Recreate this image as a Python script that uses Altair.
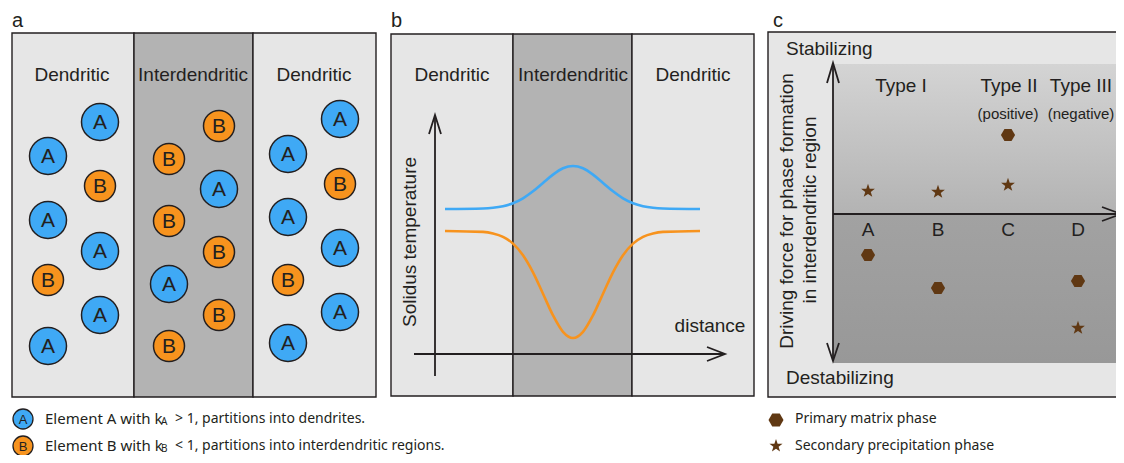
import altair as alt
import pandas as pd

FONT = "Liberation Sans"
LFONT = "Noto Sans"
INK = "#231f20"
LIGHT = "#e6e6e6"
DARK = "#b3b3b3"
BLUE = "#3fa9f5"
ORANGE = "#f7931e"
BROWN = "#603813"

# figure coordinate frame (units of the 1124x463 reference layout)
X0, X1 = 8, 1116
Y0, Y1 = 10, 457

# ---- panel backgrounds -------------------------------------------------
box_x = [12, 134, 253, 391, 513, 632, 768]
box_x2 = [134, 253, 376, 513, 632, 754, 1130]
box_y = [35, 35, 35, 36, 36, 36, 34]
box_y2 = [399, 399, 399, 398, 398, 398, 399]
box_fill = [LIGHT, DARK, LIGHT, LIGHT, DARK, LIGHT, LIGHT]

# panel c inner field (upper = stabilizing, lower = destabilizing)
field_x = [833, 833]
field_x2 = [1122, 1122]
field_y = [66, 216]
field_y2 = [216, 365]

# ---- panel a: solute elements ----------------------------------------
el_x = [100, 48, 100, 48, 100, 48, 100, 48,
        219, 169, 219, 169, 219, 169, 219, 169,
        340, 288, 340, 288, 340, 288, 340, 288]
el_y = [124, 158, 188, 222, 253, 282, 317, 348,
        128, 161, 191, 223, 254, 286, 317, 348,
        121, 156, 186, 219, 250, 282, 314, 345]
el_type = ["A", "A", "B", "A", "A", "B", "A", "A",
           "B", "B", "A", "B", "B", "A", "B", "B",
           "A", "A", "B", "A", "A", "B", "A", "A"]

# legend rows
row1, row2 = 421, 448
leg_a_x = [23, 23]
leg_a_y = [row1, row2]
leg_a_type = ["A", "B"]

# ---- panel b: solidus temperature profiles ---------------------------
dist = [445, 483, 493, 503, 513, 523, 533, 543, 553, 563, 573,
        583, 593, 603, 613, 623, 633, 643, 653, 663, 700]
temp_A = [211, 210.5, 209.8, 208.2, 205.2, 200.3, 193.3, 184.9, 176.6, 170.3, 168,
          170.3, 176.6, 184.9, 193.3, 200.3, 205.2, 208.2, 209.8, 210.5, 211]
temp_B = [233, 233.9, 235.4, 238.8, 245.6, 257.2, 274.3, 295.7, 317.3, 333.8, 340,
          333.8, 317.3, 295.7, 274.3, 257.2, 245.6, 238.8, 235.4, 233.9, 233]

# ---- axis arrows (id, x, y) -------------------------------------------
arrow_id = ["by", "by", "bx", "bx", "cy", "cy", "cx", "cx",
            "h1", "h1", "h1", "h2", "h2", "h2", "h3", "h3", "h3",
            "h4", "h4", "h4", "h5", "h5", "h5"]
arrow_x = [435, 435, 414, 725, 833, 833, 833, 1121,
           429, 435, 441, 707, 725, 707, 827, 833, 839,
           827, 833, 839, 1102, 1121, 1102]
arrow_y = [378, 117, 356, 356, 65, 363, 216, 216,
           136, 117, 136, 349, 356, 363, 85, 65, 85,
           345, 363, 345, 209, 216, 223]

# ---- panel c: phases ---------------------------------------------------
cat = ["A", "B", "C", "D"]
cat_x = [868, 938, 1008, 1078]
matrix_y = [257, 290, 137, 283]
precip_y = [193, 194, 187, 330]

HEX = "M-1,0L-0.5,-0.866L0.5,-0.866L1,0L0.5,0.866L-0.5,0.866Z"
STAR = ("M0,-1L0.235,-0.324L0.951,-0.309L0.380,0.124L0.588,0.809L0,0.4"
        "L-0.588,0.809L-0.380,0.124L-0.951,-0.309L-0.235,-0.324Z")

xs = alt.Scale(domain=[X0, X1], nice=False, zero=False)
ys = alt.Scale(domain=[Y0, Y1], nice=False, zero=False, reverse=True)


def XY(extra=None):
    enc = dict(x=alt.X("x:Q", scale=xs, axis=None), y=alt.Y("y:Q", scale=ys, axis=None))
    if extra:
        enc.update(extra)
    return enc


def texts(items, size, align="center", baseline="middle", angle=0, font=FONT, color=INK):
    df = pd.DataFrame(items, columns=["x", "y", "t"])
    kw = dict(fontSize=size, align=align, baseline=baseline, font=font, color=color)
    if angle:
        kw["angle"] = angle
    return alt.Chart(df).mark_text(**kw).encode(**XY({"text": "t:N"}))


layers = []

# backgrounds
bg = pd.DataFrame({"x": box_x, "x2": box_x2, "y": box_y, "y2": box_y2, "f": box_fill})
layers.append(alt.Chart(bg).mark_rect(stroke=INK, strokeWidth=1.4).encode(
    **XY({"x2": "x2:Q", "y2": "y2:Q", "fill": alt.Fill("f:N", scale=None)})))

fld = pd.DataFrame({"x": field_x, "x2": field_x2, "y": field_y, "y2": field_y2})
grad_up = alt.LinearGradient(gradient="linear", x1=0, x2=0, y1=0, y2=1,
                             stops=[alt.GradientStop(color="#d4d4d4", offset=0),
                                    alt.GradientStop(color="#b3b3b3", offset=1)])
grad_lo = alt.LinearGradient(gradient="linear", x1=0, x2=0, y1=0, y2=1,
                             stops=[alt.GradientStop(color="#a2a2a2", offset=0),
                                    alt.GradientStop(color="#989898", offset=1)])
layers.append(alt.Chart(fld.iloc[[0]]).mark_rect(fill=grad_up).encode(
    **XY({"x2": "x2:Q", "y2": "y2:Q"})))
layers.append(alt.Chart(fld.iloc[[1]]).mark_rect(fill=grad_lo).encode(
    **XY({"x2": "x2:Q", "y2": "y2:Q"})))

# panel letters
layers.append(texts([(12, 29, "a"), (391, 29, "b"), (773, 29, "c")], 20,
                    align="left", baseline="alphabetic"))

# region labels
layers.append(texts([(72, 77, "Dendritic"), (193, 77, "Interdendritic"), (314, 77, "Dendritic"),
                     (452, 77, "Dendritic"), (573, 77, "Interdendritic"), (693, 77, "Dendritic")], 19))

# elements in panel a
el = pd.DataFrame({"x": el_x, "y": el_y, "t": el_type})
el["f"] = el["t"].map({"A": BLUE, "B": ORANGE})
el["s"] = el["t"].map({"A": 37 * 37, "B": 31 * 31})
layers.append(alt.Chart(el).mark_point(shape="circle", filled=True, opacity=1, stroke=INK,
                                       strokeWidth=1.5).encode(
    **XY({"fill": alt.Fill("f:N", scale=None), "size": alt.Size("s:Q", scale=None)})))
layers.append(alt.Chart(el).mark_text(fontSize=21, font=FONT, color=INK, baseline="middle",
                                      dy=1).encode(**XY({"text": "t:N"})))

lg = pd.DataFrame({"x": leg_a_x, "y": leg_a_y, "t": leg_a_type})
lg["f"] = lg["t"].map({"A": BLUE, "B": ORANGE})
layers.append(alt.Chart(lg).mark_point(shape="circle", filled=True, opacity=1, stroke=INK,
                                       strokeWidth=1.3, size=20 * 20).encode(
    **XY({"fill": alt.Fill("f:N", scale=None)})))
layers.append(alt.Chart(lg).mark_text(fontSize=13, font=FONT, color=INK, baseline="middle",
                                      dy=1).encode(**XY({"text": "t:N"})))

# legend text panel a
layers.append(texts([(45, row1, "Element A with k"), (45, row2, "Element B with k")], 15,
                    align="left", font=LFONT))
layers.append(texts([(161, row1 + 3, "A"), (161, row2 + 3, "B")], 10, align="left", font=LFONT))
layers.append(texts([(175, row1, "> 1, partitions into dendrites."),
                     (175, row2, "< 1, partitions into interdendritic regions.")], 14,
                    align="left", font=LFONT))

# panel b curves
cv = pd.concat([
    pd.DataFrame({"x": dist, "y": temp_A, "el": "A", "c": BLUE}),
    pd.DataFrame({"x": dist, "y": temp_B, "el": "B", "c": ORANGE}),
])
cv["o"] = list(range(len(dist))) * 2
layers.append(alt.Chart(cv).mark_line(strokeWidth=2.6, interpolate="monotone").encode(
    **XY({"color": alt.Color("c:N", scale=None), "detail": "el:N", "order": "o:Q"})))

# axes and arrowheads
ar = pd.DataFrame({"x": arrow_x, "y": arrow_y, "id": arrow_id})
ar["o"] = range(len(ar))
layers.append(alt.Chart(ar).mark_line(color=INK, strokeWidth=1.8, strokeJoin="miter").encode(
    **XY({"detail": "id:N", "order": "o:Q"})))

layers.append(texts([(410, 244, "Solidus temperature")], 19, angle=270))
layers.append(texts([(710, 328, "distance")], 19))

# panel c texts
layers.append(texts([(786, 51, "Stabilizing"), (786, 380, "Destabilizing")], 19, align="left"))
layers.append(texts([(787, 213, "Driving force for phase formation"),
                     (810, 212, "in interdendritic region")], 19, angle=270))
layers.append(texts([(901, 88, "Type I"), (1009, 88, "Type II"), (1081, 88, "Type III")], 19))
layers.append(texts([(1008, 116, "(positive)"), (1081, 116, "(negative)")], 15))
layers.append(texts(list(zip(cat_x, [232] * 4, cat)), 19))

ph = pd.DataFrame({"x": cat_x, "y": matrix_y})
layers.append(alt.Chart(ph).mark_point(shape=HEX, filled=True, opacity=1, color=BROWN,
                                       size=200).encode(**XY()))
pp = pd.DataFrame({"x": cat_x, "y": precip_y})
layers.append(alt.Chart(pp).mark_point(shape=STAR, filled=True, opacity=1, color=BROWN,
                                       size=210).encode(**XY()))

# legend panel c
layers.append(alt.Chart(pd.DataFrame({"x": [776], "y": [row1 + 1]})).mark_point(
    shape=HEX, filled=True, opacity=1, color=BROWN, size=225).encode(**XY()))
layers.append(alt.Chart(pd.DataFrame({"x": [776], "y": [row2]})).mark_point(
    shape=STAR, filled=True, opacity=1, color=BROWN, size=190).encode(**XY()))
layers.append(texts([(795, row1, "Primary matrix phase"),
                     (795, row2, "Secondary precipitation phase")], 14, align="left", font=LFONT))

chart = alt.layer(*layers).properties(
    width=X1 - X0, height=Y1 - Y0, padding=0,
    autosize=alt.AutoSizeParams(type="none"),
).configure_view(stroke=None)

chart.save("out.html", embed_options={"renderer": "svg", "actions": False})
